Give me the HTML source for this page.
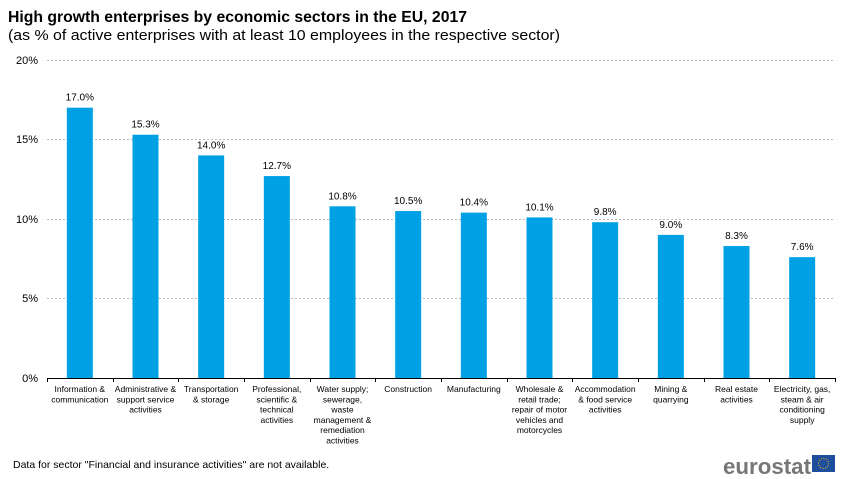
<!DOCTYPE html>
<html><head><meta charset="utf-8"><style>
body{margin:0;background:#fff;}
svg{display:block;font-family:"Liberation Sans",Arial,sans-serif;}
</style></head><body>
<svg width="850" height="479" viewBox="0 0 850 479" xmlns="http://www.w3.org/2000/svg">
<text x="8" y="22" font-size="15.5" font-weight="bold" fill="#000" textLength="459" lengthAdjust="spacingAndGlyphs">High growth enterprises by economic sectors in the EU, 2017</text>
<text x="8" y="40" font-size="15" fill="#000" textLength="552" lengthAdjust="spacingAndGlyphs">(as % of active enterprises with at least 10 employees in the respective sector)</text>
<g stroke="#bbb" stroke-dasharray="2,2" stroke-width="1">
<line x1="47" x2="835" y1="60.5" y2="60.5"/>
<line x1="47" x2="835" y1="139.5" y2="139.5"/>
<line x1="47" x2="835" y1="219.5" y2="219.5"/>
<line x1="47" x2="835" y1="298.5" y2="298.5"/>
</g>
<g font-size="11" fill="#000" text-anchor="end">
<text x="38" y="64">20%</text><text x="38" y="143">15%</text><text x="38" y="223">10%</text><text x="38" y="302">5%</text><text x="38" y="382">0%</text>
</g>
<g fill="#00a1e4" id="bars"></g>
<line x1="47" x2="835" y1="378.5" y2="378.5" stroke="#000"/>
<g id="ticks" stroke="#000"></g>
<g id="vals" font-size="10" text-anchor="middle" fill="#000"></g>
<g id="cats" font-size="8.5" text-anchor="middle" fill="#000"></g>
<text x="13" y="468" font-size="10.5" fill="#000">Data for sector "Financial and insurance activities" are not available.</text>
<text x="723" y="474" font-size="22" font-weight="bold" fill="#777" textLength="88" lengthAdjust="spacingAndGlyphs">eurostat</text>
<rect x="812" y="455" width="23" height="17" fill="#1f4e9c"/>
<circle cx="823.5" cy="463.5" r="5" fill="none" stroke="#f5d000" stroke-width="1" stroke-dasharray="1,1.6"/>
<script>
var vals=[17.0,15.3,14.0,12.7,10.8,10.5,10.4,10.1,9.8,9.0,8.3,7.6];
var cats=[["Information &","communication"],["Administrative &","support service","activities"],["Transportation","& storage"],["Professional,","scientific &","technical","activities"],["Water supply;","sewerage,","waste","management &","remediation","activities"],["Construction"],["Manufacturing"],["Wholesale &","retail trade;","repair of motor","vehicles and","motorcycles"],["Accommodation","& food service","activities"],["Mining &","quarrying"],["Real estate","activities"],["Electricity, gas,","steam & air","conditioning","supply"]];
var ns="http://www.w3.org/2000/svg",step=788/12;
function el(t,a,p,txt){var e=document.createElementNS(ns,t);for(var k in a)e.setAttribute(k,a[k]);if(txt)e.textContent=txt;document.getElementById(p).appendChild(e);}
for(var i=0;i<12;i++){var cx=47+step*(i+0.5),h=vals[i]*15.9,y=378-h;
el("rect",{x:cx-13,y:y,width:26,height:h},"bars");
el("text",{x:cx,y:y-7},"vals",vals[i].toFixed(1)+"%");
cats[i].forEach(function(l,j){el("text",{x:cx,y:392+j*10.3},"cats",l);});}
for(var i=0;i<=12;i++){var x=Math.round(47+step*i)+0.5;el("line",{x1:x,x2:x,y1:378,y2:382},"ticks");}
</script>
</svg>
</body></html>
